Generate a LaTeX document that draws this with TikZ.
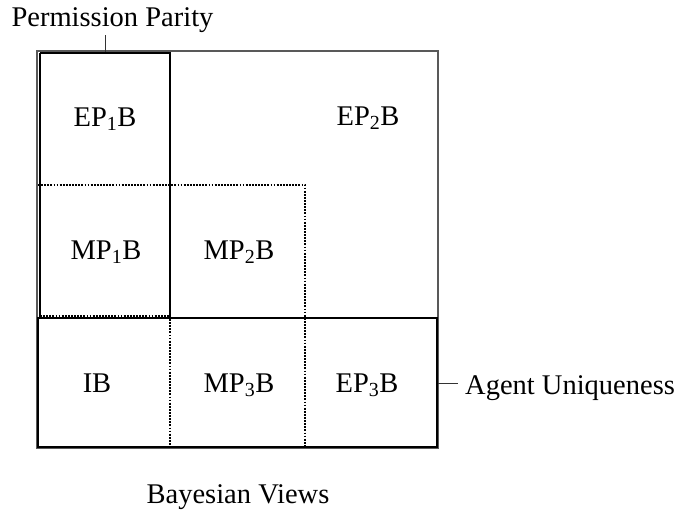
\documentclass[tikz,border=0pt]{standalone}
\usepackage{fontspec}
\setmainfont{Liberation Serif}
\begin{document}
\begin{tikzpicture}[x=1pt,y=-1pt,
  every node/.style={font=\fontsize{28.5}{34}\selectfont, inner sep=2pt, anchor=base},
  frame/.style={draw=black!65, line width=1.3pt},
  solidbox/.style={draw=black, line width=2.3pt},
  dotbox/.style={draw=black, line width=2.2pt, dash pattern=on 1.8pt off 1.3pt},
  lbl/.style={draw=black!80, line width=0.9pt}]
\useasboundingbox (0,0) rectangle (681,514);
% EP region (outer frame)
\draw[frame] (37,51) rectangle (438,448);
% MP region (dotted)
\draw[dotbox] (38,185) -- (305,185) -- (305,447);
% Agent uniqueness row
\draw[solidbox] (38,318) rectangle (437,447);
% Permission parity column
\draw[solidbox] (40,53) -- (170,53) -- (170,318);
\draw[solidbox] (40,53) -- (40,318);
% IB cell (dotted)
\draw[dotbox] (40,316.5) -- (170,316.5);
\draw[dotbox] (170,319) -- (170,446);
% cell labels
\node (ep1) at (105,126) {EP\textsubscript{1}B};
\node (ep2) at (368,125) {EP\textsubscript{2}B};
\node (mp1) at (106,259) {MP\textsubscript{1}B};
\node (mp2) at (239,259) {MP\textsubscript{2}B};
\node (ib)  at (97,392) {IB};
\node (mp3) at (239,392) {MP\textsubscript{3}B};
\node (ep3) at (367,392) {EP\textsubscript{3}B};
% outside labels
\node (pp) at (112.5,27) {Permission Parity};
\coordinate (ppt) at (105,52);
\draw[lbl] (ppt) -- (ppt |- pp.south);
\node[anchor=base west, inner xsep=7pt] (au) at (458,394) {Agent Uniqueness};
\coordinate (aue) at (438,383);
\draw[lbl] (aue) -- (aue -| au.west);
\node (bv) at (238,503) {Bayesian Views};
\end{tikzpicture}
\end{document}
